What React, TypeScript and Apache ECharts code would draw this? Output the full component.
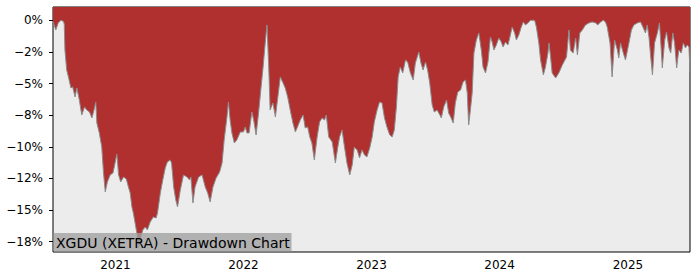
import { useEffect, useRef } from 'react';
import * as echarts from 'echarts';

const dates: string[] = [
  '2020-07-07','2020-07-15','2020-07-22','2020-07-30','2020-08-06','2020-08-08','2020-08-10','2020-08-15','2020-08-20','2020-08-27',
  '2020-09-01','2020-09-08','2020-09-13','2020-09-20','2020-09-27','2020-10-05','2020-10-11','2020-10-19','2020-10-26','2020-11-01',
  '2020-11-06','2020-11-09','2020-11-16','2020-11-23','2020-11-28','2020-12-03','2020-12-09','2020-12-17','2020-12-25','2020-12-31',
  '2021-01-05','2021-01-10','2021-01-16','2021-01-24','2021-02-01','2021-02-07','2021-02-12','2021-02-17','2021-02-21','2021-02-26',
  '2021-03-03','2021-03-08','2021-03-12','2021-03-20','2021-03-27','2021-04-02','2021-04-10','2021-04-19','2021-04-27','2021-05-01',
  '2021-05-09','2021-05-16','2021-05-23','2021-05-29','2021-06-06','2021-06-10','2021-06-16','2021-06-22','2021-06-27','2021-07-05',
  '2021-07-14','2021-07-24','2021-07-31','2021-08-04','2021-08-10','2021-08-16','2021-08-26','2021-09-05','2021-09-14','2021-09-21',
  '2021-09-28','2021-10-06','2021-10-15','2021-10-25','2021-11-01','2021-11-07','2021-11-15','2021-11-19','2021-11-24','2021-11-29',
  '2021-12-06','2021-12-13','2021-12-23','2022-01-01','2022-01-06','2022-01-11','2022-01-17','2022-01-25','2022-01-30','2022-02-06',
  '2022-02-13','2022-02-20','2022-02-26','2022-03-03','2022-03-09','2022-03-14','2022-03-18','2022-03-26','2022-04-02','2022-04-08',
  '2022-04-16','2022-04-24','2022-04-30','2022-05-07','2022-05-15','2022-05-22','2022-05-29','2022-06-04','2022-06-12','2022-06-20',
  '2022-06-26','2022-07-03','2022-07-09','2022-07-15','2022-07-22','2022-07-30','2022-08-06','2022-08-13','2022-08-20','2022-08-25',
  '2022-09-01','2022-09-11','2022-09-20','2022-09-27','2022-10-02','2022-10-09','2022-10-16','2022-10-23','2022-10-31','2022-11-07',
  '2022-11-13','2022-11-21','2022-11-28','2022-12-05','2022-12-12','2022-12-19','2022-12-27','2023-01-03','2023-01-09','2023-01-17',
  '2023-01-24','2023-01-31','2023-02-07','2023-02-14','2023-02-22','2023-03-01','2023-03-07','2023-03-13','2023-03-18','2023-03-24',
  '2023-03-31','2023-04-08','2023-04-14','2023-04-22','2023-04-30','2023-05-06','2023-05-16','2023-05-22','2023-05-28','2023-06-04',
  '2023-06-10','2023-06-16','2023-06-23','2023-06-29','2023-07-07','2023-07-15','2023-07-19','2023-07-26','2023-08-03','2023-08-09',
  '2023-08-16','2023-08-22','2023-08-28','2023-09-04','2023-09-12','2023-09-19','2023-09-26','2023-10-01','2023-10-05','2023-10-10',
  '2023-10-15','2023-10-20','2023-10-27','2023-11-03','2023-11-10','2023-11-15','2023-11-22','2023-11-29','2023-12-06','2023-12-11',
  '2023-12-16','2023-12-23','2023-12-30','2024-01-06','2024-01-11','2024-01-18','2024-01-25','2024-01-30','2024-02-06','2024-02-13',
  '2024-02-18','2024-02-25','2024-03-03','2024-03-09','2024-03-15','2024-03-22','2024-03-29','2024-04-10','2024-04-15','2024-04-22',
  '2024-04-27','2024-05-05','2024-05-11','2024-05-18','2024-05-21','2024-05-25','2024-05-30','2024-06-09','2024-06-18','2024-06-28',
  '2024-07-10','2024-07-17','2024-07-21','2024-07-29','2024-08-05','2024-08-10','2024-08-17','2024-08-24','2024-09-02','2024-09-12',
  '2024-09-21','2024-10-01','2024-10-07','2024-10-15','2024-10-23','2024-10-29','2024-11-03','2024-11-11','2024-11-17','2024-11-24',
  '2024-12-02','2024-12-06','2024-12-11','2024-12-18','2024-12-25','2025-01-04','2025-01-11','2025-01-18','2025-01-28','2025-02-06',
  '2025-02-14','2025-02-20','2025-02-25','2025-03-02','2025-03-07','2025-03-12','2025-03-18','2025-03-26','2025-04-01','2025-04-06',
  '2025-04-09','2025-04-16','2025-04-21','2025-04-28','2025-05-03','2025-05-09','2025-05-14','2025-05-20','2025-05-26','2025-06-02',
  '2025-06-08','2025-06-14','2025-06-19','2025-06-24','2025-06-27',
];

const drawdown: number[] = [
  -0.1, -0.77, -0.2, 0, -0.1, -0.3, -2.35, -3.93, -4.48, -5.35,
  -5.27, -6.06, -5.35, -6.3, -7.49, -6.85, -7.09, -7.25, -7.72, -7.09,
  -6.46, -8.12, -8.91, -10.02, -12.07, -13.57, -12.78, -12.23, -12.07, -11.28,
  -10.57, -12.23, -12.78, -12.39, -12.55, -13.18, -13.65, -14.76, -15.23, -16.02,
  -16.81, -18.0, -17.37, -16.58, -16.34, -16.58, -15.95, -15.55, -15.63, -15.23,
  -13.65, -12.62, -11.68, -11.2, -11.04, -11.28, -13.18, -14.2, -14.76, -13.41,
  -12.23, -12.39, -12.62, -12.39, -14.44, -13.18, -12.39, -12.23, -13.18, -13.65,
  -14.36, -13.18, -12.47, -12.0, -11.28, -9.46, -7.64, -6.46, -7.88, -8.91,
  -9.7, -9.46, -8.83, -8.83, -8.43, -8.91, -8.91, -7.25, -7.88, -9.07,
  -7.33, -5.35, -3.69, -2.11, -0.37, -3.69, -7.09, -6.54, -7.64, -6.3,
  -4.48, -4.96, -5.35, -6.06, -7.2, -8.12, -8.83, -8.43, -7.88, -7.49,
  -8.51, -8.43, -9.22, -9.7, -11.04, -9.22, -8.04, -7.72, -7.88, -7.49,
  -9.22, -9.62, -11.28, -10.02, -9.22, -8.67, -10.02, -11.28, -12.23, -11.44,
  -10.02, -10.25, -10.88, -10.25, -10.65, -10.8, -10.09, -9.22, -8.04, -7.09,
  -6.46, -6.54, -7.72, -8.43, -9.07, -9.22, -8.67, -6.85, -4.48, -3.69,
  -4.17, -3.14, -3.3, -4.17, -4.72, -3.38, -2.51, -3.38, -3.93, -3.3,
  -3.93, -4.96, -6.7, -7.25, -7.09, -7.49, -7.72, -6.85, -6.3, -7.33,
  -7.72, -8.12, -6.54, -5.67, -5.51, -4.88, -4.72, -5.75, -8.28, -7.09,
  -5.75, -2.59, -1.56, -1.0, -2.35, -3.69, -4.17, -3.3, -1.32, -1.72,
  -2.35, -1.95, -1.4, -1.72, -2.11, -1.72, -1.95, -1.4, -0.53, -1.0,
  -1.56, -1.16, -0.53, -0.13, -0.37, -0.21, 0, 0, -0.53, -1.79,
  -3.14, -4.32, -3.69, -2.59, -1.79, -2.74, -4.17, -4.56, -4.17, -3.53,
  -2.9, -0.77, -2.35, -2.59, -1.4, -2.74, -1.0, -0.77, -0.37, -0.21,
  -0.13, -0.21, -0.37, -0.13, 0, -0.13, -0.53, -1.79, -4.48, -1.56,
  -2.35, -2.98, -1.79, -2.51, -3.14, -1.79, -0.77, -0.37, -0.21, -0.13,
  -0.61, -1.0, -0.37, -1.32, -2.9, -4.32, -1.79, -1.0, -0.21, -2.35,
  -3.77, -1.56, -0.92, -2.19, -2.59, -1.0, -1.79, -3.77, -2.35, -2.59,
  -1.79, -2.19, -1.95, -2.11, -4.09,
];

const xTickYears: number[] = [2021, 2022, 2023, 2024, 2025];
const yTickValues: number[] = [0, -2.5, -5, -7.5, -10, -12.5, -15, -17.5];
const yTickLabels: string[] = ['0%', '\u22122%', '\u22125%', '\u22128%', '\u221210%', '\u221212%', '\u221215%', '\u221218%'];
const chartTitle = 'XGDU (XETRA) - Drawdown Chart';

const toTs = (s: string): number => {
  const [y, m, d] = s.split('-').map(Number);
  return Date.UTC(y, m - 1, d);
};

const FONT = 'DejaVu Sans';

export default function App() {
  const ref = useRef<HTMLDivElement>(null);

  useEffect(() => {
    if (!ref.current) return;
    const chart = echarts.init(ref.current, null, { renderer: 'svg' });
    const data = dates.map((d, i) => [toTs(d), drawdown[i]]);
    const xTicks = xTickYears.map((y) => Date.UTC(y, 0, 1));

    chart.setOption({
      animation: false,
      backgroundColor: '#ffffff',
      textStyle: { fontFamily: FONT },
      grid: {
        left: 53,
        right: 10,
        top: 7,
        bottom: 28,
        show: true,
        backgroundColor: '#ececec',
        borderColor: '#000000',
        borderWidth: 1,
      },
      xAxis: {
        type: 'value',
        min: toTs(dates[0]),
        max: toTs(dates[dates.length - 1]),
        axisLine: { show: false },
        splitLine: { show: false },
        axisTick: {
          show: true,
          length: 4,
          lineStyle: { color: '#000000', width: 1 },
          customValues: xTicks,
        },
        axisLabel: {
          customValues: xTicks,
          formatter: (v: number) => {
            const i = xTicks.findIndex((t) => Math.abs(t - v) < 1000);
            return i >= 0 ? String(xTickYears[i]) : '';
          },
          color: '#000000',
          fontSize: 12,
          fontFamily: FONT,
          margin: 7,
        },
      },
      yAxis: {
        type: 'value',
        min: -18.32,
        max: 1.05,
        axisLine: { show: false },
        splitLine: { show: false },
        axisTick: {
          show: true,
          length: 4,
          lineStyle: { color: '#000000', width: 1 },
          customValues: yTickValues,
        },
        axisLabel: {
          customValues: yTickValues,
          formatter: (v: number) => {
            const i = yTickValues.findIndex((t) => Math.abs(t - v) < 1e-6);
            return i >= 0 ? yTickLabels[i] : '';
          },
          color: '#000000',
          fontSize: 12,
          fontFamily: FONT,
          margin: 10,
        },
      },
      series: [
        {
          type: 'line',
          data,
          symbol: 'none',
          lineStyle: { color: '#8c8c8c', width: 1 },
          areaStyle: { color: '#b03030', origin: 'end', opacity: 1 },
          z: 2,
        },
      ],
      graphic: [
        {
          type: 'rect',
          shape: { x: 53.5, y: 233, width: 238, height: 18.5 },
          style: { fill: 'rgba(160,160,160,0.78)' },
          z: 10,
        },
        {
          type: 'text',
          x: 56,
          y: 243,
          style: {
            text: chartTitle,
            fill: '#000000',
            fontSize: 14,
            fontFamily: FONT,
            verticalAlign: 'middle',
            align: 'left',
          },
          z: 11,
        },
      ],
    });

    return () => {
      chart.dispose();
    };
  }, []);

  return (
    <div
      ref={ref}
      style={{ position: 'absolute', left: 0, top: 0, width: 700, height: 280 }}
    />
  );
}
